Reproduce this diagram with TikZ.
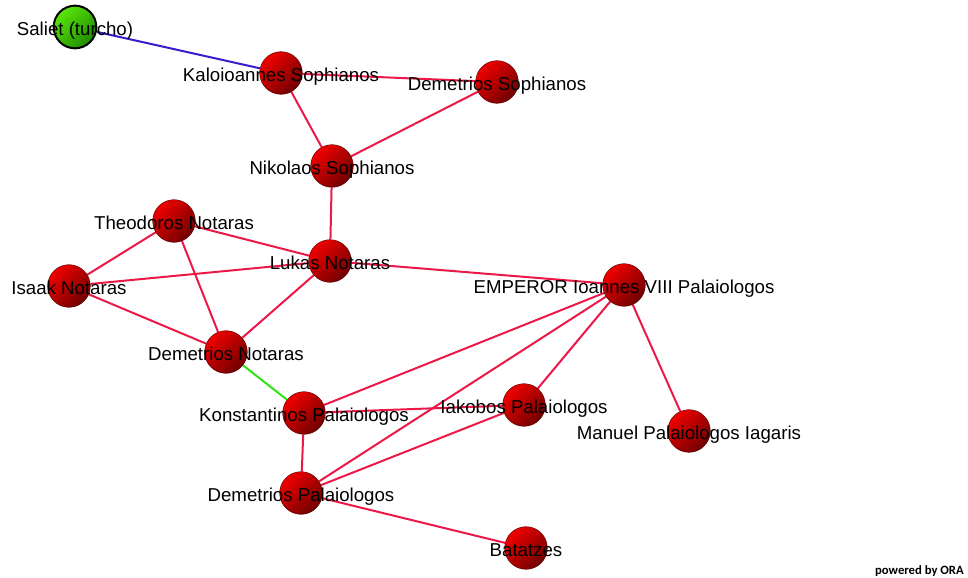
\documentclass[tikz,border=0pt]{standalone}
\usepackage{fontspec}
\setmainfont{Liberation Sans}
\newfontfamily\orafont{Carlito}
\usetikzlibrary{backgrounds}
\definecolor{tiered}{RGB}{236,24,72}
\definecolor{tieblue}{RGB}{58,28,204}
\definecolor{tiegreen}{RGB}{44,228,20}
\definecolor{ballhi}{RGB}{240,0,0}
\definecolor{balllo}{RGB}{112,0,0}
\definecolor{turkhi}{RGB}{90,230,10}
\definecolor{turklo}{RGB}{30,140,0}

\begin{document}
\begin{tikzpicture}[x=0.75pt,y=-0.75pt,
  every label/.style={font=\fontsize{14}{16}\selectfont,text height=10pt,text depth=3pt,inner sep=0pt,yshift=-3pt},
  ball/.style={circle,minimum size=32pt,inner sep=0pt,draw=balllo!70!black,line width=0.3pt,top color=ballhi,bottom color=balllo,shading angle=45},
  turk/.style={ball,draw=black,line width=1.5pt,top color=turkhi,bottom color=turklo,shading angle=45},
  tie/.style={draw=tiered,line width=1.5pt}]

\useasboundingbox (0,0) rectangle (968,578);

% people
\node[turk,label={center:Saliet (turcho)}] (saliet) at (75,27) {};
\node[ball,label={center:Kaloioannes Sophianos}] (kalo) at (281,73) {};
\node[ball,label={center:Demetrios Sophianos}] (dsoph) at (497,82) {};
\node[ball,label={center:Nikolaos Sophianos}] (nsoph) at (332,166) {};
\node[ball,label={center:Theodoros Notaras}] (theo) at (174,221) {};
\node[ball,label={center:Lukas Notaras}] (lukas) at (330,261) {};
\node[ball,label={center:Isaak Notaras}] (isaak) at (69,286) {};
\node[ball,label={center:EMPEROR Ioannes VIII Palaiologos}] (emperor) at (624,285) {};
\node[ball,label={center:Demetrios Notaras}] (dnot) at (226,352) {};
\node[ball,label={center:Konstantinos Palaiologos}] (konst) at (304,413) {};
\node[ball,label={center:Iakobos Palaiologos}] (iako) at (524,405) {};
\node[ball,label={center:Manuel Palaiologos Iagaris}] (manuel) at (689,431) {};
\node[ball,label={center:Demetrios Palaiologos}] (dpal) at (301,493) {};
\node[ball,label={center:Batatzes}] (batat) at (526,548) {};

% ties
\begin{scope}[on background layer]
\draw[tie,draw=tieblue](saliet)--(kalo);
\draw[tie](kalo)--(dsoph);
\draw[tie](kalo)--(nsoph);
\draw[tie](dsoph)--(nsoph);
\draw[tie](nsoph)--(lukas);
\draw[tie](theo)--(lukas);
\draw[tie](theo)--(isaak);
\draw[tie](theo)--(dnot);
\draw[tie](isaak)--(lukas);
\draw[tie](isaak)--(dnot);
\draw[tie](lukas)--(dnot);
\draw[tie](lukas)--(emperor);
\draw[tie,draw=tiegreen](dnot)--(konst);
\draw[tie](emperor)--(konst);
\draw[tie](emperor)--(iako);
\draw[tie](emperor)--(dpal);
\draw[tie](emperor)--(manuel);
\draw[tie](konst)--(iako);
\draw[tie](konst)--(dpal);
\draw[tie](iako)--(dpal);
\draw[tie](dpal)--(batat);
\end{scope}

\node[font=\orafont\bfseries\fontsize{9.5}{11}\selectfont,anchor=base east,inner sep=0pt] (ora) at (964,574) {powered by ORA};

\end{tikzpicture}
\end{document}
